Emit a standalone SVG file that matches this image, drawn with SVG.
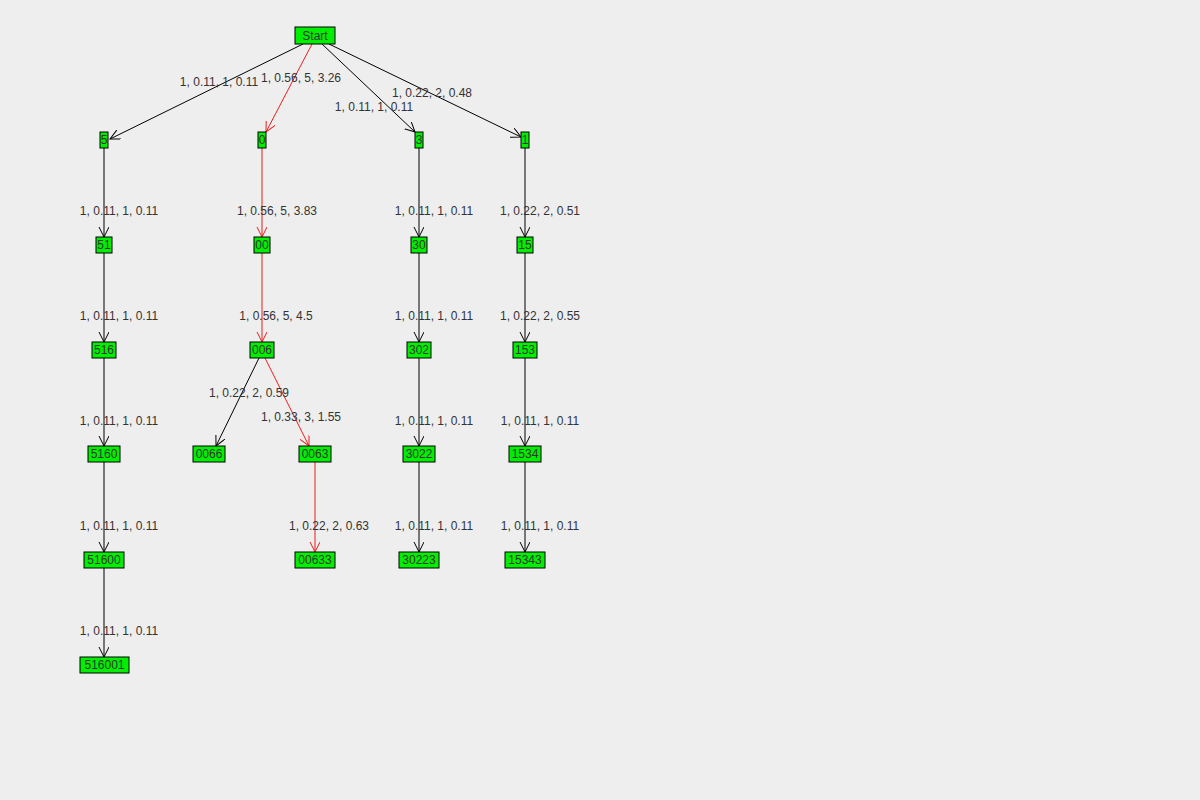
<svg xmlns="http://www.w3.org/2000/svg" width="1200" height="800" viewBox="0 0 1200 800">
<style>
.n rect{fill:#00ee00;stroke:#000;stroke-width:1}
.n text{font-family:"Liberation Sans",Arial,sans-serif;font-size:12px;fill:#333;text-anchor:middle}
.e{fill:none;stroke:#000;stroke-width:1}
.r{stroke:#ee1c1c}
.l{font-family:"Liberation Sans",Arial,sans-serif;font-size:12px;fill:#333;text-anchor:middle}
</style>
<defs>
<marker id="ak" markerWidth="12" markerHeight="12" refX="10" refY="5" orient="auto" markerUnits="userSpaceOnUse"><path d="M0,0 L10,5 L0,10" fill="none" stroke="#000"/></marker>
<marker id="ar" markerWidth="12" markerHeight="12" refX="10" refY="5" orient="auto" markerUnits="userSpaceOnUse"><path d="M0,0 L10,5 L0,10" fill="none" stroke="#ee1c1c"/></marker>
</defs>
<rect width="1200" height="800" fill="#eeeeee"/>
<g id="connectors">
<line class="e" x1="303" y1="44" x2="110" y2="139" marker-end="url(#ak)"/>
<line class="e r" x1="312" y1="44" x2="266" y2="132" marker-end="url(#ar)"/>
<line class="e" x1="322" y1="44" x2="415" y2="132" marker-end="url(#ak)"/>
<line class="e" x1="329" y1="44" x2="521" y2="137" marker-end="url(#ak)"/>
<line class="e" x1="104" y1="148" x2="104" y2="237" marker-end="url(#ak)"/>
<line class="e" x1="104" y1="253" x2="104" y2="342" marker-end="url(#ak)"/>
<line class="e" x1="104" y1="358" x2="104" y2="446" marker-end="url(#ak)"/>
<line class="e" x1="104" y1="462" x2="104" y2="552" marker-end="url(#ak)"/>
<line class="e" x1="104" y1="568" x2="104" y2="657" marker-end="url(#ak)"/>
<line class="e r" x1="262" y1="148" x2="262" y2="237" marker-end="url(#ar)"/>
<line class="e r" x1="262" y1="253" x2="262" y2="342" marker-end="url(#ar)"/>
<line class="e" x1="259" y1="358" x2="216" y2="446" marker-end="url(#ak)"/>
<line class="e r" x1="265" y1="358" x2="309" y2="446" marker-end="url(#ar)"/>
<line class="e r" x1="315" y1="462" x2="315" y2="552" marker-end="url(#ar)"/>
<line class="e" x1="419" y1="148" x2="419" y2="237" marker-end="url(#ak)"/>
<line class="e" x1="419" y1="253" x2="419" y2="342" marker-end="url(#ak)"/>
<line class="e" x1="419" y1="358" x2="419" y2="446" marker-end="url(#ak)"/>
<line class="e" x1="419" y1="462" x2="419" y2="552" marker-end="url(#ak)"/>
<line class="e" x1="525" y1="148" x2="525" y2="237" marker-end="url(#ak)"/>
<line class="e" x1="525" y1="253" x2="525" y2="342" marker-end="url(#ak)"/>
<line class="e" x1="525" y1="358" x2="525" y2="446" marker-end="url(#ak)"/>
<line class="e" x1="525" y1="462" x2="525" y2="552" marker-end="url(#ak)"/>
<text class="l" x="219" y="86">1, 0.11, 1, 0.11</text>
<text class="l" x="301" y="82">1, 0.56, 5, 3.26</text>
<text class="l" x="374" y="111">1, 0.11, 1, 0.11</text>
<text class="l" x="432" y="97">1, 0.22, 2, 0.48</text>
<text class="l" x="119" y="215">1, 0.11, 1, 0.11</text>
<text class="l" x="119" y="320">1, 0.11, 1, 0.11</text>
<text class="l" x="119" y="425">1, 0.11, 1, 0.11</text>
<text class="l" x="119" y="530">1, 0.11, 1, 0.11</text>
<text class="l" x="119" y="635">1, 0.11, 1, 0.11</text>
<text class="l" x="277" y="215">1, 0.56, 5, 3.83</text>
<text class="l" x="276" y="320">1, 0.56, 5, 4.5</text>
<text class="l" x="249" y="397">1, 0.22, 2, 0.59</text>
<text class="l" x="301" y="421">1, 0.33, 3, 1.55</text>
<text class="l" x="329" y="530">1, 0.22, 2, 0.63</text>
<text class="l" x="434" y="215">1, 0.11, 1, 0.11</text>
<text class="l" x="434" y="320">1, 0.11, 1, 0.11</text>
<text class="l" x="434" y="425">1, 0.11, 1, 0.11</text>
<text class="l" x="434" y="530">1, 0.11, 1, 0.11</text>
<text class="l" x="540" y="215">1, 0.22, 2, 0.51</text>
<text class="l" x="540" y="320">1, 0.22, 2, 0.55</text>
<text class="l" x="540" y="425">1, 0.11, 1, 0.11</text>
<text class="l" x="540" y="530">1, 0.11, 1, 0.11</text>
</g>
<g id="n-start" class="n"><rect x="295" y="27" width="40" height="17"/><text x="315" y="40">Start</text></g>
<g id="n-5" class="n"><rect x="100" y="132" width="8" height="16"/><text x="104" y="144">5</text></g>
<g id="n-0" class="n"><rect x="258" y="132" width="8" height="16"/><text x="262" y="144">0</text></g>
<g id="n-3" class="n"><rect x="415" y="132" width="8" height="16"/><text x="419" y="144">3</text></g>
<g id="n-1" class="n"><rect x="521" y="132" width="8" height="16"/><text x="525" y="144">1</text></g>
<g id="n-51" class="n"><rect x="96" y="237" width="16" height="16"/><text x="104" y="249">51</text></g>
<g id="n-00" class="n"><rect x="254" y="237" width="16" height="16"/><text x="262" y="249">00</text></g>
<g id="n-30" class="n"><rect x="411" y="237" width="16" height="16"/><text x="419" y="249">30</text></g>
<g id="n-15" class="n"><rect x="517" y="237" width="16" height="16"/><text x="525" y="249">15</text></g>
<g id="n-516" class="n"><rect x="92" y="342" width="24" height="16"/><text x="104" y="354">516</text></g>
<g id="n-006" class="n"><rect x="250" y="342" width="24" height="16"/><text x="262" y="354">006</text></g>
<g id="n-302" class="n"><rect x="407" y="342" width="24" height="16"/><text x="419" y="354">302</text></g>
<g id="n-153" class="n"><rect x="513" y="342" width="24" height="16"/><text x="525" y="354">153</text></g>
<g id="n-5160" class="n"><rect x="88" y="446" width="32" height="16"/><text x="104" y="458">5160</text></g>
<g id="n-0066" class="n"><rect x="193" y="446" width="32" height="16"/><text x="209" y="458">0066</text></g>
<g id="n-0063" class="n"><rect x="299" y="446" width="32" height="16"/><text x="315" y="458">0063</text></g>
<g id="n-3022" class="n"><rect x="403" y="446" width="32" height="16"/><text x="419" y="458">3022</text></g>
<g id="n-1534" class="n"><rect x="509" y="446" width="32" height="16"/><text x="525" y="458">1534</text></g>
<g id="n-51600" class="n"><rect x="84" y="552" width="40" height="16"/><text x="104" y="564">51600</text></g>
<g id="n-00633" class="n"><rect x="295" y="552" width="40" height="16"/><text x="315" y="564">00633</text></g>
<g id="n-30223" class="n"><rect x="399" y="552" width="40" height="16"/><text x="419" y="564">30223</text></g>
<g id="n-15343" class="n"><rect x="505" y="552" width="40" height="16"/><text x="525" y="564">15343</text></g>
<g id="n-516001" class="n"><rect x="80" y="657" width="49" height="16"/><text x="104.5" y="669">516001</text></g>
</svg>
